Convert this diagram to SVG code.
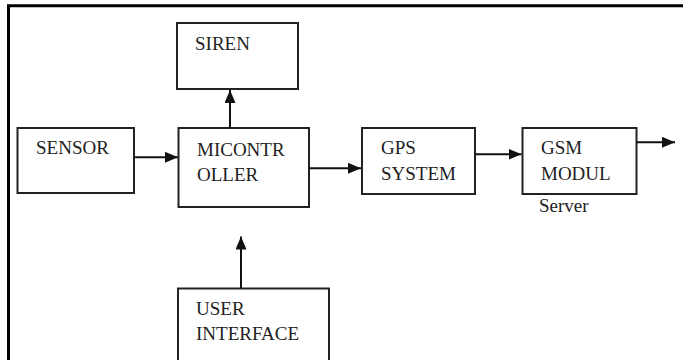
<svg xmlns="http://www.w3.org/2000/svg" width="683" height="360" viewBox="0 0 683 360">
<defs>
<style>
.box{fill:#fff;stroke:#222;stroke-width:2}
.lbl{font-family:"Liberation Serif",serif;font-size:19px;fill:#222}
.ln{stroke:#111;stroke-width:2;fill:none}
</style>
<marker id="ah" markerUnits="userSpaceOnUse" markerWidth="14" markerHeight="12" refX="13" refY="5.5" orient="auto">
<path d="M0,0 L13,5.5 L0,11 Z" fill="#111"/>
</marker>
</defs>
<rect width="683" height="360" fill="#fff"/>
<path d="M8.5,360 V5.8 H683" fill="none" stroke="#000" stroke-width="3"/>
<g id="siren"><rect class="box" x="177" y="23" width="121" height="66"/><text class="lbl" x="195" y="50">SIREN</text></g>
<g id="sensor"><rect class="box" x="17.5" y="128" width="116.5" height="65"/><text class="lbl" x="36" y="154">SENSOR</text></g>
<g id="micontroller"><rect class="box" x="178.5" y="128" width="130.5" height="79"/><text class="lbl" x="197" y="156">MICONTR</text><text class="lbl" x="197" y="181">OLLER</text></g>
<g id="gps"><rect class="box" x="362" y="128" width="113" height="66"/><text class="lbl" x="381" y="154">GPS</text><text class="lbl" x="381" y="180">SYSTEM</text></g>
<g id="gsm"><rect class="box" x="522.5" y="128" width="114" height="66"/><text class="lbl" x="541" y="154">GSM</text><text class="lbl" x="541" y="180">MODUL</text><text class="lbl" x="539" y="212">Server</text></g>
<g id="user-interface"><rect class="box" x="178" y="288.5" width="151" height="80"/><text class="lbl" x="196" y="315">USER</text><text class="lbl" x="196" y="340">INTERFACE</text></g>
<g id="connectors">
<line class="ln" x1="134" y1="157.3" x2="178" y2="157.3" marker-end="url(#ah)"/>
<line class="ln" x1="230" y1="128" x2="230" y2="90" marker-end="url(#ah)"/>
<line class="ln" x1="309" y1="168.3" x2="361" y2="168.3" marker-end="url(#ah)"/>
<line class="ln" x1="475" y1="154.3" x2="521.5" y2="154.3" marker-end="url(#ah)"/>
<line class="ln" x1="636.5" y1="142.3" x2="675" y2="142.3" marker-end="url(#ah)"/>
<line class="ln" x1="241" y1="288" x2="241" y2="236.5" marker-end="url(#ah)"/>
</g>
</svg>
